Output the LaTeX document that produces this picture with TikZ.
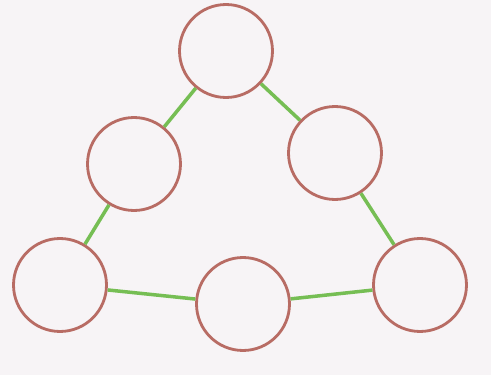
\documentclass[tikz,border=0pt]{standalone}
\usepackage{tikz}
\usetikzlibrary{positioning}
\definecolor{paper}{RGB}{247,244,246}
\definecolor{ringred}{RGB}{184,108,100}
\definecolor{linkgreen}{RGB}{118,190,84}

\begin{document}
\begin{tikzpicture}[
  x=0.02cm, y=-0.02cm,
  ring/.style={
    circle,
    draw=ringred,
    line width=1.6pt,
    fill=paper,
    minimum size=1.86cm,
    inner sep=0pt
  },
  link/.style={draw=linkgreen, line width=2pt}
]
\fill[paper] (0,0) rectangle (491,375);
\useasboundingbox (0,0) rectangle (491,375);

\node[ring] (T)  at (226,51)  {};
\node[ring] (ML) at (134,164) {};
\node[ring] (MR) at (335,153) {};
\node[ring] (BL) at (60,285)  {};
\node[ring] (BM) at (243,304) {};
\node[ring] (BR) at (420,285) {};

\draw[link] (T) -- (ML);
\draw[link] (T) -- (MR);
\draw[link] (ML) -- (BL);
\draw[link] (MR) -- (BR);
\draw[link] (BL) -- (BM);
\draw[link] (BM) -- (BR);
\end{tikzpicture}
\end{document}
